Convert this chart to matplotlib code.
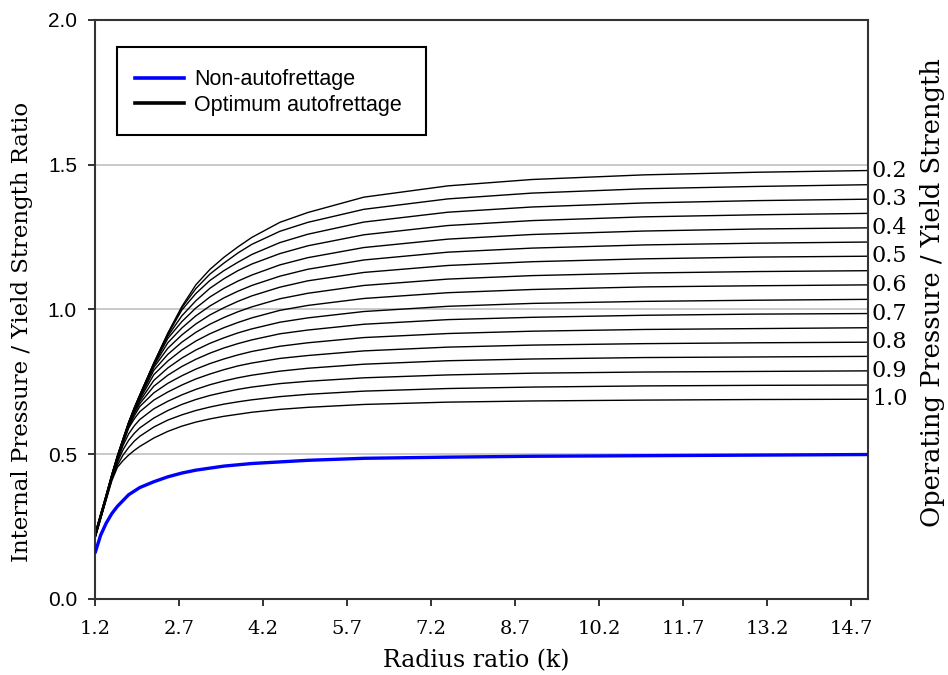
import matplotlib
matplotlib.use("Agg")
import matplotlib.pyplot as plt
from matplotlib.lines import Line2D
from matplotlib.patches import Rectangle
from matplotlib.transforms import blended_transform_factory

# Radius ratio k = outer / inner radius
radius_ratio = [1.2, 1.4, 1.5, 1.6, 1.7, 1.8, 1.9, 2.0, 2.25, 2.5, 2.75, 3.0,
                3.25, 3.5, 3.75, 4.0, 4.5, 5.0, 6.0, 7.5, 9.0, 11.0, 13.0, 15.0]

# Elastic (non-autofrettaged) limit, on its own k grid
blue_k = [1.2, 1.3, 1.4, 1.5, 1.6, 1.8, 2.0, 2.25, 2.5, 2.75, 3.0, 3.5,
          4.0, 5.0, 6.0, 7.5, 9.0, 11.0, 13.0, 15.0]
non_autofrettage = [0.158, 0.220, 0.262, 0.295, 0.320, 0.360, 0.385, 0.405,
                    0.422, 0.435, 0.445, 0.459, 0.468, 0.479, 0.486, 0.490,
                    0.493, 0.495, 0.497, 0.499]

# Operating pressure / yield strength for each optimum-autofrettage curve
operating_ratio = [0.20, 0.25, 0.30, 0.35, 0.40, 0.45, 0.50, 0.55, 0.60,
                   0.65, 0.70, 0.75, 0.80, 0.85, 0.90, 0.95, 1.00]

# Internal pressure / yield strength, one row per operating ratio
autofrettage = [
    [0.225, 0.360, 0.430, 0.495, 0.553, 0.610, 0.660, 0.705, 0.815, 0.918, 1.010, 1.085, 1.138, 1.180, 1.216, 1.249, 1.301, 1.335, 1.388, 1.427, 1.449, 1.465, 1.474, 1.480],
    [0.224, 0.359, 0.429, 0.494, 0.552, 0.609, 0.659, 0.704, 0.814, 0.916, 1.006, 1.072, 1.122, 1.160, 1.195, 1.225, 1.270, 1.301, 1.346, 1.382, 1.402, 1.417, 1.425, 1.431],
    [0.223, 0.358, 0.428, 0.493, 0.551, 0.608, 0.658, 0.703, 0.813, 0.914, 0.998, 1.055, 1.100, 1.134, 1.163, 1.190, 1.231, 1.260, 1.302, 1.336, 1.354, 1.368, 1.376, 1.381],
    [0.222, 0.357, 0.427, 0.492, 0.550, 0.607, 0.657, 0.702, 0.812, 0.908, 0.978, 1.030, 1.073, 1.106, 1.134, 1.157, 1.193, 1.220, 1.258, 1.290, 1.307, 1.320, 1.327, 1.332],
    [0.221, 0.356, 0.426, 0.491, 0.549, 0.606, 0.656, 0.701, 0.810, 0.900, 0.958, 1.005, 1.043, 1.073, 1.098, 1.119, 1.154, 1.179, 1.214, 1.243, 1.259, 1.271, 1.278, 1.282],
    [0.220, 0.355, 0.425, 0.490, 0.548, 0.605, 0.655, 0.700, 0.806, 0.885, 0.936, 0.978, 1.012, 1.040, 1.063, 1.083, 1.115, 1.139, 1.171, 1.198, 1.212, 1.223, 1.229, 1.233],
    [0.219, 0.354, 0.424, 0.489, 0.547, 0.604, 0.654, 0.699, 0.800, 0.866, 0.912, 0.950, 0.981, 1.006, 1.028, 1.047, 1.077, 1.099, 1.128, 1.152, 1.165, 1.175, 1.181, 1.184],
    [0.218, 0.353, 0.423, 0.488, 0.546, 0.603, 0.652, 0.695, 0.790, 0.845, 0.887, 0.921, 0.949, 0.972, 0.992, 1.009, 1.037, 1.056, 1.083, 1.105, 1.117, 1.126, 1.131, 1.134],
    [0.217, 0.352, 0.422, 0.487, 0.545, 0.602, 0.650, 0.690, 0.775, 0.822, 0.860, 0.891, 0.916, 0.937, 0.955, 0.971, 0.997, 1.014, 1.038, 1.058, 1.069, 1.078, 1.082, 1.085],
    [0.216, 0.351, 0.421, 0.486, 0.544, 0.600, 0.646, 0.683, 0.755, 0.798, 0.832, 0.860, 0.883, 0.902, 0.919, 0.933, 0.956, 0.971, 0.993, 1.011, 1.021, 1.028, 1.032, 1.035],
    [0.215, 0.350, 0.420, 0.485, 0.543, 0.598, 0.640, 0.675, 0.735, 0.773, 0.803, 0.828, 0.849, 0.867, 0.882, 0.895, 0.916, 0.929, 0.949, 0.965, 0.973, 0.980, 0.984, 0.986],
    [0.214, 0.349, 0.419, 0.484, 0.541, 0.593, 0.632, 0.665, 0.712, 0.745, 0.771, 0.794, 0.813, 0.829, 0.843, 0.855, 0.873, 0.885, 0.903, 0.917, 0.925, 0.931, 0.934, 0.937],
    [0.213, 0.348, 0.418, 0.482, 0.537, 0.590, 0.622, 0.647, 0.687, 0.715, 0.739, 0.760, 0.777, 0.792, 0.805, 0.815, 0.831, 0.841, 0.857, 0.870, 0.877, 0.882, 0.885, 0.887],
    [0.212, 0.347, 0.417, 0.478, 0.530, 0.570, 0.598, 0.620, 0.657, 0.683, 0.705, 0.724, 0.740, 0.753, 0.764, 0.773, 0.787, 0.797, 0.811, 0.823, 0.829, 0.834, 0.836, 0.838],
    [0.211, 0.346, 0.416, 0.472, 0.515, 0.548, 0.572, 0.591, 0.625, 0.651, 0.672, 0.689, 0.703, 0.714, 0.724, 0.732, 0.744, 0.752, 0.764, 0.774, 0.780, 0.784, 0.786, 0.788],
    [0.210, 0.345, 0.413, 0.462, 0.497, 0.523, 0.545, 0.562, 0.594, 0.618, 0.636, 0.651, 0.663, 0.673, 0.681, 0.688, 0.699, 0.707, 0.718, 0.727, 0.732, 0.736, 0.738, 0.739],
    [0.209, 0.343, 0.408, 0.455, 0.478, 0.497, 0.513, 0.527, 0.556, 0.579, 0.597, 0.611, 0.622, 0.631, 0.638, 0.645, 0.655, 0.662, 0.672, 0.680, 0.684, 0.687, 0.689, 0.690],
]

x_ticks = [1.2, 2.7, 4.2, 5.7, 7.2, 8.7, 10.2, 11.7, 13.2, 14.7]
y_ticks = [0.0, 0.5, 1.0, 1.5, 2.0]

SERIF = "DejaVu Serif"
SANS = "Liberation Sans"
AXIS_GREY = "#333333"

fig = plt.figure(figsize=(9.48, 6.75), dpi=100)
ax = fig.add_axes([0.1002, 0.1126, 0.8154, 0.8578])

# Horizontal grid lines
for y in y_ticks[1:-1]:
    ax.axhline(y, color="#c0c0c0", lw=1.2, zorder=0)

for row in autofrettage:
    ax.plot(radius_ratio, row, color="black", lw=1.0, zorder=2)
ax.plot(blue_k, non_autofrettage, color="#0000ff", lw=2.4, zorder=3,
        solid_capstyle="butt")

ax.set_xlim(1.2, 15.0)
ax.set_ylim(0.0, 2.0)
ax.set_xticks(x_ticks)
ax.set_xticklabels([f"{v:.1f}" for v in x_ticks], family=SERIF, fontsize=14)
ax.set_yticks(y_ticks)
ax.set_yticklabels([f"{v:.1f}" for v in y_ticks], family=SANS, fontsize=15)
ax.tick_params(axis="x", direction="out", length=5, width=1.4,
               color=AXIS_GREY, pad=10)
ax.tick_params(axis="y", direction="out", length=5, width=1.4,
               color=AXIS_GREY, pad=8)
for sp in ax.spines.values():
    sp.set_color(AXIS_GREY)
    sp.set_linewidth(1.5)

ax.set_xlabel("Radius ratio (k)", family=SERIF, fontsize=17)
ax.xaxis.set_label_coords(0.493, -0.107)
ax.xaxis.label.set_va("center")
ax.set_ylabel("Internal Pressure / Yield Strength Ratio", family=SERIF,
              fontsize=16.5)
ax.yaxis.set_label_coords(-0.0944, 0.461)
ax.yaxis.label.set_va("center")

# Operating-ratio labels at the right end of every second curve
trans = blended_transform_factory(ax.transAxes, ax.transData)
for i, (op, row) in enumerate(zip(operating_ratio, autofrettage)):
    if i % 2 == 0:
        ax.text(1.005, row[-1], f"{op:.1f}", transform=trans, ha="left",
                va="center", family=SERIF, fontsize=16, clip_on=False)

fig.text(0.984, 0.567, "Operating Pressure / Yield Strength", rotation=90,
         ha="center", va="center", family=SERIF, fontsize=18.5)

# Legend with a separately drawn frame
ax.add_patch(Rectangle((0.0285, 0.8014), 0.3997, 0.152, transform=ax.transAxes,
                       facecolor="white", edgecolor="black", lw=1.5, zorder=4))
handles = [Line2D([], [], color="#0000ff", lw=2.6),
           Line2D([], [], color="black", lw=2.6)]
leg = ax.legend(handles, ["Non-autofrettage", "Optimum autofrettage"],
                loc="upper left", bbox_to_anchor=(0.0517, 0.915),
                frameon=False, borderpad=0, borderaxespad=0,
                handlelength=2.3, handletextpad=0.45, labelspacing=0.21,
                prop={"family": SANS, "size": 15.5})
leg.set_zorder(5)

fig.savefig("out.png", dpi=100)
